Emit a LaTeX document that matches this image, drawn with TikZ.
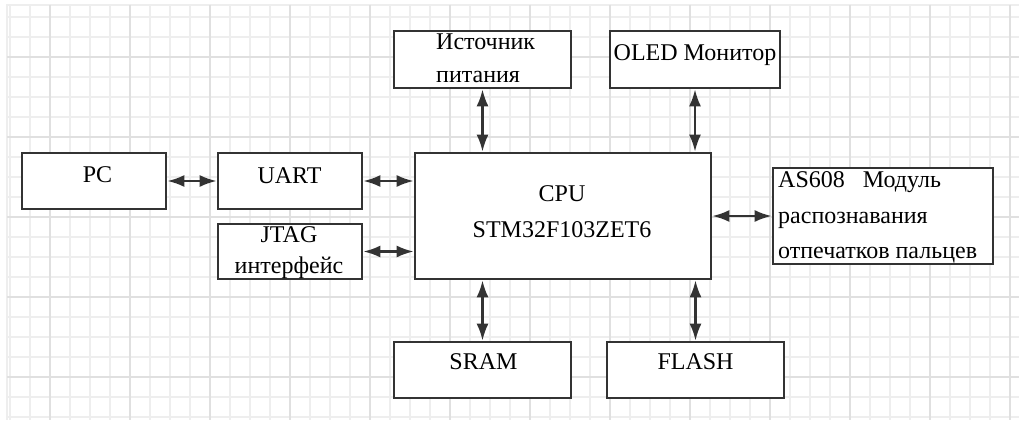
\documentclass[tikz,border=0pt]{standalone}
\usepackage{fontspec}
\setmainfont{Liberation Serif}
\usetikzlibrary{arrows.meta}
\definecolor{gridminor}{HTML}{EEEEEE}
\definecolor{gridmajor}{HTML}{E0E0E0}
\definecolor{ink}{HTML}{333333}
\begin{document}
\begin{tikzpicture}[x=1pt,y=-1pt]
\tikzstyle{every node}+=[inner sep=0pt]
\tikzstyle{blk}=[draw=ink,line width=2.6pt,fill=white]
\tikzstyle{lbl}=[font=\fontsize{24}{34}\selectfont,text=black]
\tikzstyle{link}=[draw=ink,line width=2.4pt,{Latex[length=17pt,width=12pt]}-{Latex[length=17pt,width=12pt]}]
\useasboundingbox (0,0) rectangle (1019,420);
\fill[white] (0,0) rectangle (1019,420);
% grid
\foreach \i in {0,...,50} \draw[gridminor,line width=1.2pt] (10+20*\i,5) -- (10+20*\i,420);
\foreach \i in {0,...,20} \draw[gridminor,line width=1.2pt] (7,17+20*\i) -- (1019,17+20*\i);
\draw[gridminor,line width=1.2pt] (7,420) -- (7,5) -- (1019,5);
\foreach \i in {0,...,12} \draw[gridmajor,line width=1.4pt] (50+80*\i,5) -- (50+80*\i,420);
\foreach \i in {0,...,4} \draw[gridmajor,line width=1.4pt] (7,57+80*\i) -- (1019,57+80*\i);
% blocks
\node[blk,minimum width=144,minimum height=56] (pc) at (94,181) {};
\node[blk,minimum width=144,minimum height=56] (uart) at (290,181) {};
\node[blk,minimum width=144,minimum height=55] (jtag) at (290,251.5) {};
\node[blk,minimum width=296,minimum height=126] (cpu) at (563,216) {};
\node[blk,minimum width=177,minimum height=57] (pwr) at (482.5,59.5) {};
\node[blk,minimum width=170,minimum height=57] (oled) at (695,59.5) {};
\node[blk,minimum width=220,minimum height=96] (as) at (883,216) {};
\node[blk,minimum width=177,minimum height=56] (sram) at (482.5,370) {};
\node[blk,minimum width=177,minimum height=56] (flash) at (695.5,370) {};
% texts
\node[lbl] (pc-t) at (97.5,174.5) {PC};
\node[lbl] (uart-t) at (289.5,176) {UART};
\node[lbl,align=center] (jtag-t) at (289,252.5) {JTAG\\[-3pt]интерфейс};
\node[lbl,align=center] (cpu-t) at (562,212) {CPU\\[2pt]STM32F103ZET6};
\node[lbl,align=left,anchor=west] (pwr-t) at (436,58.5) {Источник\\[-1pt]питания};
\node[lbl] (oled-t) at (695,55) {OLED Монитор};
\node[lbl,align=left,anchor=west] (as-t) at (778,217.5) {AS608\ \ \ Модуль\\[1.5pt]распознавания\\[1.5pt]отпечатков пальцев};
\node[lbl] (sram-t) at (483.5,361.5) {SRAM};
\node[lbl] (flash-t) at (695.5,361.5) {FLASH};
% links
\draw[link] (pc) -- (uart);
\draw[link] (uart) -- (uart -| cpu.west);
\draw[link] (jtag) -- (jtag -| cpu.west);
\draw[link] (pwr) -- (pwr |- cpu.north);
\draw[link] (oled) -- (oled |- cpu.north);
\draw[link] (sram) -- (sram |- cpu.south);
\draw[link] (flash) -- (flash |- cpu.south);
\draw[link] (as) -- (as -| cpu.east);
\end{tikzpicture}
\end{document}
